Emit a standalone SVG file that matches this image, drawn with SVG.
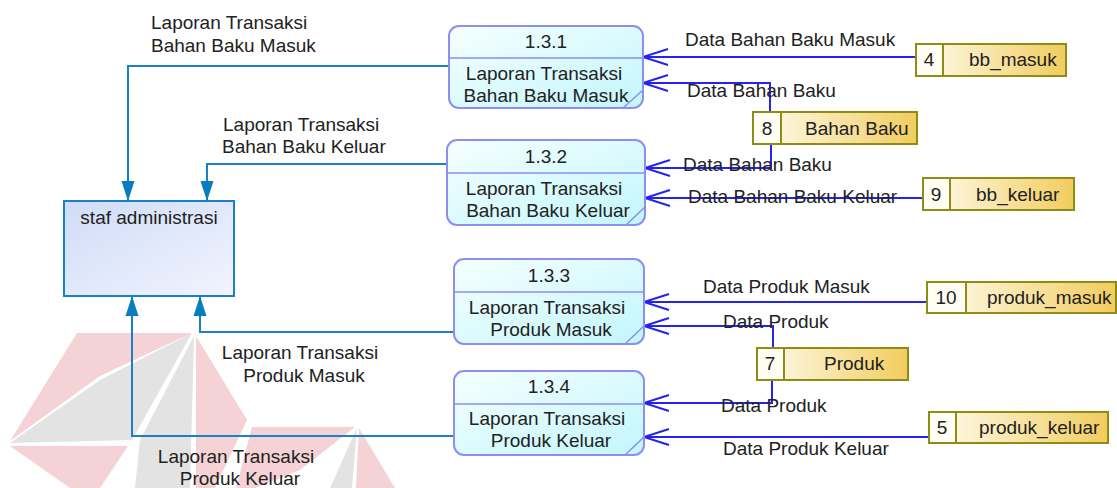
<svg xmlns="http://www.w3.org/2000/svg" width="1117" height="488" viewBox="0 0 1117 488">
<defs>
<linearGradient id="gProc" x1="0" y1="0" x2="1" y2="1">
<stop offset="0" stop-color="#f6ffff"/><stop offset="1" stop-color="#c2f6fc"/>
</linearGradient>
<linearGradient id="gEnt" x1="0" y1="0" x2="1" y2="1">
<stop offset="0" stop-color="#cfdcf7"/><stop offset="1" stop-color="#f2f4fe"/>
</linearGradient>
<linearGradient id="gStore" x1="0" y1="0" x2="1" y2="0">
<stop offset="0" stop-color="#fffdf2"/><stop offset="1" stop-color="#f2cc5e"/>
</linearGradient>
<marker id="open" markerUnits="userSpaceOnUse" orient="auto" refX="0" refY="0" markerWidth="30" markerHeight="20" viewBox="-27 -10 30 20" overflow="visible">
<path d="M-25,-8 L0,0 L-25,8" fill="none" stroke="#2424ee" stroke-width="2"/>
</marker>
<marker id="solid" markerUnits="userSpaceOnUse" orient="auto" refX="0" refY="0" markerWidth="22" markerHeight="16" viewBox="-21 -8 22 16" overflow="visible">
<path d="M-20,-6.5 L0,0 L-20,6.5 Z" fill="#0a7cc1"/>
</marker>
<style>
text{font-family:"Liberation Sans",Arial,sans-serif;font-size:19px;fill:#222}
.proc{fill:url(#gProc);stroke:#8d8df2;stroke-width:2}
.pl{stroke:#8d8df2;stroke-width:1.5;fill:none}
.ent{fill:url(#gEnt);stroke:#1a82c4;stroke-width:2}
.st{fill:url(#gStore);stroke:#8f8c14;stroke-width:2}
.stn{fill:#fffdf4;stroke:#8f8c14;stroke-width:2}
.ef{fill:none;stroke:#1a82c4;stroke-width:2;marker-end:url(#solid)}
.df{fill:none;stroke:#2424ee;stroke-width:2;marker-end:url(#open)}
.c{text-anchor:middle}
.wr{fill:#f4d2d5}
.wg{fill:#e3e3e3}
</style>
</defs>
<g id="watermark">
<polygon class="wr" points="77,333 192,333 100,376 10,441"/>
<polygon class="wg" points="10,443 100,380 192,333 132,440"/>
<polygon class="wr" points="10,446 128,446 100,488 70,488"/>
<polygon class="wg" points="194,336 140,440 135,488 190,488"/>
<polygon class="wr" points="196,336 247,420 215,488 196,488"/>
<polygon class="wr" points="252,427 355,427 300,470 255,488 236,488"/>
<polygon class="wg" points="357,428 330,488 352,488"/>
<polygon class="wr" points="359,428 395,488 356,488"/>
</g>
<g id="connectors">
<path class="ef" d="M449,66 H128 V201"/>
<path class="ef" d="M447,164 H207 V201"/>
<path class="ef" d="M454,332 H200 V296"/>
<path class="ef" d="M454,436 H132 V296"/>
<path class="df" d="M916,57 H643"/>
<path class="df" d="M770,112 V83 H643"/>
<path class="df" d="M771,144 V168 H645"/>
<path class="df" d="M923,198 H645"/>
<path class="df" d="M927,302 H644"/>
<path class="df" d="M773,348 V326 H644"/>
<path class="df" d="M772,380 V403 H644"/>
<path class="df" d="M929,437 H644"/>
<text x="151" y="29">Laporan Transaksi</text>
<text x="151" y="52">Bahan Baku Masuk</text>
<text x="223" y="131">Laporan Transaksi</text>
<text x="222" y="153">Bahan Baku Keluar</text>
<text class="c" x="300" y="359">Laporan Transaksi</text>
<text class="c" x="304" y="382">Produk Masuk</text>
<text class="c" x="236" y="463">Laporan Transaksi</text>
<text class="c" x="240" y="485">Produk Keluar</text>
<text x="685" y="46">Data Bahan Baku Masuk</text>
<text x="687" y="97">Data Bahan Baku</text>
<text x="683" y="171">Data Bahan Baku</text>
<text x="688" y="203">Data Bahan Baku Keluar</text>
<text x="703" y="293">Data Produk Masuk</text>
<text x="723" y="328">Data Produk</text>
<text x="721" y="412">Data Produk</text>
<text x="723" y="455">Data Produk Keluar</text>
</g>
<g id="entity-staf">
<rect class="ent" x="64" y="201" width="170" height="95"/>
<text class="c" x="149" y="224">staf administrasi</text>
</g>
<g id="proc-131">
<rect class="proc" x="449" y="26" width="194" height="82" rx="10"/>
<line class="pl" x1="449" y1="58" x2="643" y2="58"/>
<line class="pl" x1="623" y1="108" x2="643" y2="90"/>
<text class="c" x="546" y="48">1.3.1</text>
<text class="c" x="544" y="80">Laporan Transaksi</text>
<text class="c" x="546" y="102">Bahan Baku Masuk</text>
</g>
<g id="proc-132">
<rect class="proc" x="447" y="140" width="198" height="85" rx="10"/>
<line class="pl" x1="447" y1="173" x2="645" y2="173"/>
<line class="pl" x1="626" y1="225" x2="645" y2="207"/>
<text class="c" x="546" y="163">1.3.2</text>
<text class="c" x="544" y="195">Laporan Transaksi</text>
<text class="c" x="548" y="217">Bahan Baku Keluar</text>
</g>
<g id="proc-133">
<rect class="proc" x="454" y="259" width="190" height="85" rx="10"/>
<line class="pl" x1="454" y1="292" x2="644" y2="292"/>
<line class="pl" x1="625" y1="344" x2="644" y2="326"/>
<text class="c" x="549" y="282">1.3.3</text>
<text class="c" x="547" y="314">Laporan Transaksi</text>
<text class="c" x="551" y="336">Produk Masuk</text>
</g>
<g id="proc-134">
<rect class="proc" x="454" y="371" width="190" height="84" rx="10"/>
<line class="pl" x1="454" y1="404" x2="644" y2="404"/>
<line class="pl" x1="625" y1="455" x2="644" y2="437"/>
<text class="c" x="549" y="393">1.3.4</text>
<text class="c" x="547" y="425">Laporan Transaksi</text>
<text class="c" x="551" y="447">Produk Keluar</text>
</g>
<g id="store-4">
<rect class="st" x="916" y="44" width="150" height="32"/>
<rect class="stn" x="916" y="44" width="27" height="32"/>
<text class="c" x="929" y="66">4</text>
<text x="969" y="66">bb_masuk</text>
</g>
<g id="store-8">
<rect class="st" x="753" y="112" width="164" height="32"/>
<rect class="stn" x="753" y="112" width="28" height="32"/>
<text class="c" x="767" y="135">8</text>
<text x="805" y="135">Bahan Baku</text>
</g>
<g id="store-9">
<rect class="st" x="923" y="178" width="151" height="32"/>
<rect class="stn" x="923" y="178" width="27" height="32"/>
<text class="c" x="936" y="201">9</text>
<text x="976" y="201">bb_keluar</text>
</g>
<g id="store-10">
<rect class="st" x="927" y="282" width="189" height="31"/>
<rect class="stn" x="927" y="282" width="39" height="31"/>
<text class="c" x="946" y="304">10</text>
<text x="987" y="304">produk_masuk</text>
</g>
<g id="store-7">
<rect class="st" x="757" y="348" width="151" height="32"/>
<rect class="stn" x="757" y="348" width="27" height="32"/>
<text class="c" x="770" y="370">7</text>
<text x="824" y="370">Produk</text>
</g>
<g id="store-5">
<rect class="st" x="929" y="412" width="179" height="31"/>
<rect class="stn" x="929" y="412" width="27" height="31"/>
<text class="c" x="942" y="434">5</text>
<text x="979" y="434">produk_keluar</text>
</g>
</svg>
